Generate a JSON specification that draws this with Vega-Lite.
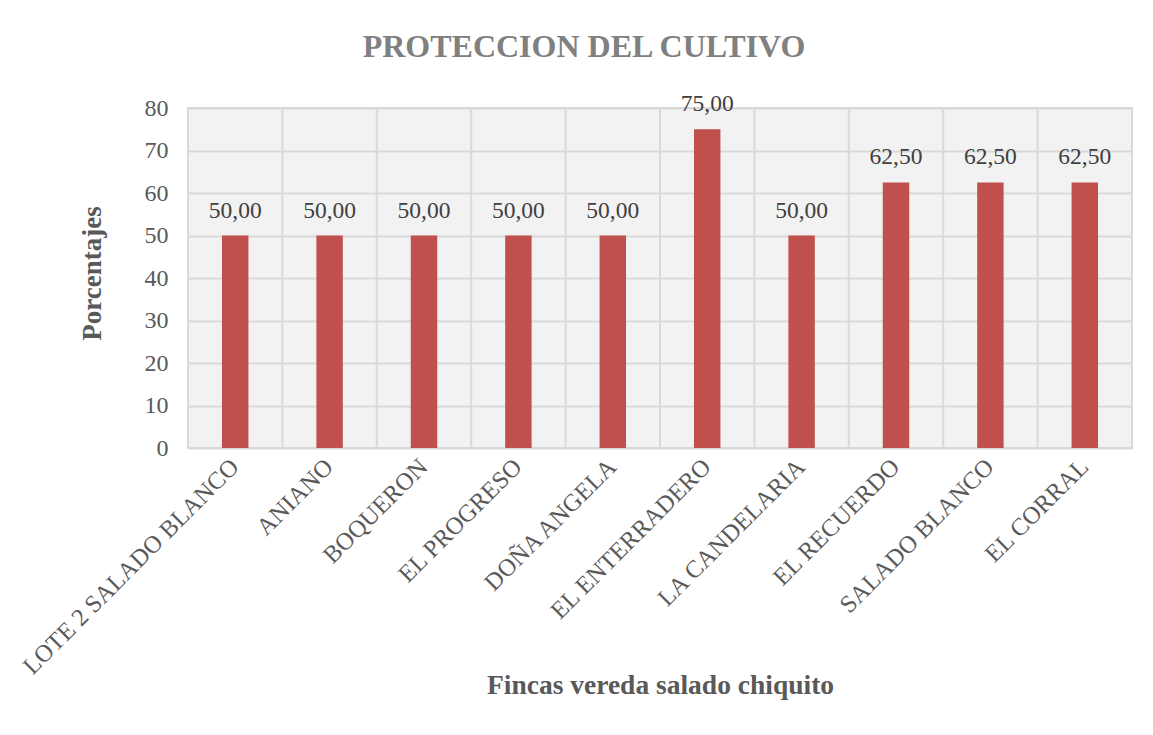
{
  "$schema": "https://vega.github.io/schema/vega-lite/v6.json",
  "autosize": {"type": "none"},
  "width": 944,
  "height": 340,
  "padding": {"left": 188, "top": 108, "right": 21, "bottom": 287},
  "config": {
    "locale": {"number": {"decimal": ",", "thousands": ".", "grouping": [3], "currency": ["", ""]}},
    "font": "Liberation Serif",
    "view": {"fill": "#f2f2f2", "stroke": "#d9d9d9", "strokeWidth": 2}
  },
  "title": {
    "text": "PROTECCION DEL CULTIVO",
    "font": "Liberation Serif",
    "fontSize": 32,
    "fontWeight": "bold",
    "color": "#808080",
    "anchor": "middle",
    "dx": -76,
    "offset": 28
  },
  "data": {
    "values": [
      {"finca": "LOTE 2 SALADO BLANCO", "valor": 50},
      {"finca": "ANIANO", "valor": 50},
      {"finca": "BOQUERON", "valor": 50},
      {"finca": "EL PROGRESO", "valor": 50},
      {"finca": "DOÑA ANGELA", "valor": 50},
      {"finca": "EL ENTERRADERO", "valor": 75},
      {"finca": "LA CANDELARIA", "valor": 50},
      {"finca": "EL RECUERDO", "valor": 62.5},
      {"finca": "SALADO BLANCO", "valor": 62.5},
      {"finca": "EL CORRAL", "valor": 62.5}
    ]
  },
  "layer": [
    {
      "mark": {"type": "rule", "color": "#d9d9d9", "strokeWidth": 2},
      "encoding": {
        "x": {"field": "finca", "type": "nominal", "sort": null, "bandPosition": 0,
              "scale": {"paddingInner": 0, "paddingOuter": 0}}
      }
    },
    {
      "mark": {"type": "bar", "color": "#C0504D", "width": {"band": 0.28}},
      "encoding": {
        "x": {
          "field": "finca", "type": "nominal", "sort": null,
          "scale": {"paddingInner": 0, "paddingOuter": 0},
          "axis": {
            "title": "Fincas vereda salado chiquito",
            "titleFontSize": 27.5, "titleFontWeight": "bold", "titleColor": "#595959",
            "titleFont": "Liberation Serif",
            "titleY": 245, "titleBaseline": "alphabetic",
            "labelAngle": -45, "labelFontSize": 24.5, "labelColor": "#595959",
            "labelFont": "Liberation Serif",
            "labelLimit": 0, "labelPadding": 15,
            "ticks": false, "domain": false, "grid": false
          }
        },
        "y": {
          "field": "valor", "type": "quantitative",
          "scale": {"domain": [0, 80], "nice": false},
          "axis": {
            "title": "Porcentajes",
            "titleFontSize": 27, "titleFontWeight": "bold", "titleColor": "#595959",
            "titleFont": "Liberation Serif",
            "titleX": -96, "titleY": 165, "titleBaseline": "middle",
            "values": [0, 10, 20, 30, 40, 50, 60, 70, 80],
            "labelFontSize": 24, "labelColor": "#595959", "labelFont": "Liberation Serif",
            "labelPadding": 20,
            "ticks": false, "domain": false,
            "grid": true, "gridColor": "#d9d9d9", "gridWidth": 2
          }
        }
      }
    },
    {
      "mark": {"type": "text", "baseline": "alphabetic", "dy": -18, "fontSize": 23.5, "color": "#404040", "font": "Liberation Serif"},
      "encoding": {
        "x": {"field": "finca", "type": "nominal", "sort": null},
        "y": {"field": "valor", "type": "quantitative"},
        "text": {"field": "valor", "type": "quantitative", "format": ".2f"}
      }
    }
  ]
}
